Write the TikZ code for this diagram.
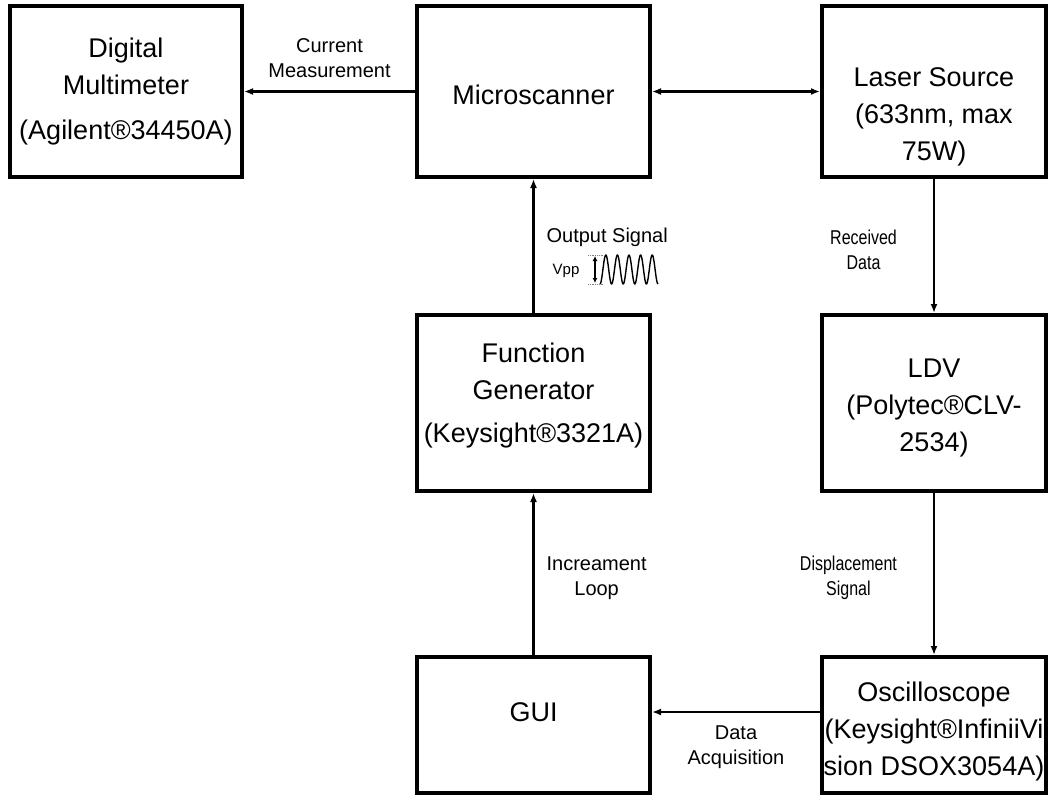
\documentclass[tikz,border=0pt]{standalone}
\usepackage{fontspec}
\setmainfont{Liberation Sans}
\newfontfamily\narrowsf[FakeStretch=0.8]{Liberation Sans}
\usetikzlibrary{arrows.meta}
\tikzset{>={Latex[length=9pt,width=7pt]},
  block/.style = {draw=black,line width=4pt,minimum width=#1,minimum height=171pt,
    inner sep=0pt,align=center,font=\fontsize{27}{37}\selectfont},
  block/.default = 233pt,
  link/.style = {line width=2.2pt},
  lbl/.style = {inner sep=2pt,align=center,font=\fontsize{20}{25}\selectfont},
  narrowlbl/.style = {lbl,font=\fontsize{20}{25}\narrowsf}
}

\begin{document}
\begin{tikzpicture}[x=1pt,y=-1pt]
  \useasboundingbox (0,0) rectangle (1052,798);
  % top row
  \node[block=232pt] (dmm) at (126,91.5) {Digital\\Multimeter\\[8pt](Agilent®34450A)};
  \node[block] (scanner) at (533.5,91.5) {\mbox{}\\[-11pt]Microscanner};
  \node[block=224pt] (laser) at (934,91.5) {\mbox{}\\[33pt]Laser Source\\(633nm, max\\75W)};
  % middle row
  \node[block,minimum height=176pt] (fgen) at (533.5,403)
       {Function\\Generator\\[6pt](Keysight®3321A)\\[-16pt]\mbox{}};
  \node[block=224pt,minimum height=176pt] (ldv) at (934,403) {\mbox{}\\[-9pt]LDV\\(Polytec®CLV-\\2534)};
  % bottom row
  \node[block,minimum height=136pt] (gui) at (533.5,725) {GUI\\[-11pt]\mbox{}};
  \node[block=224pt,minimum height=136pt] (scope) at (934,725)
       {\mbox{}\\[-5pt]Oscilloscope\\(Keysight®InfiniiVi\\sion DSOX3054A)};

  \draw[link,->] (scanner) -- (dmm) node[lbl,midway,yshift=33.5pt] {Current\\Measurement};
  \draw[link,<->] (scanner) -- (laser);
  \draw[link,->] (fgen) -- (scanner) node[lbl,midway,right=10pt,yshift=9pt] {Output Signal};
  \draw[link,->] (laser) -- (ldv) node[narrowlbl,midway,left=34pt,yshift=-4pt] {Received\\Data};
  \draw[link,->] (ldv) -- (scope) node[narrowlbl,midway,left=34pt,yshift=-4pt] {Displacement\\Signal};
  \draw[link,->] (gui) -- (fgen) node[lbl,midway,right=10pt,yshift=-4pt] {Increament\\Loop};
  \draw[link,->] ([yshift=13pt]scope.west) -- ([yshift=13pt]gui.east)
       node[lbl,midway,yshift=-35.5pt] {Data\\Acquisition};

  % Vpp sketch beside the output signal
  \node[inner sep=0pt,font=\fontsize{15}{17}\selectfont] (vpp) at (566,271) {Vpp};
  \draw[gray,densely dotted,line width=0.8pt] (588,255) -- (603,255) (588,284) -- (603,284);
  \draw[line width=1.3pt,{Latex[length=5pt,width=5pt]}-{Latex[length=5pt,width=5pt]}] (595,256) -- (595,283);
  \draw[line width=1.4pt,line join=round] plot[domain=0:5,samples=121] ({600+11.6*\x},{269.5+14.5*cos(360*\x)});
\end{tikzpicture}
\end{document}
